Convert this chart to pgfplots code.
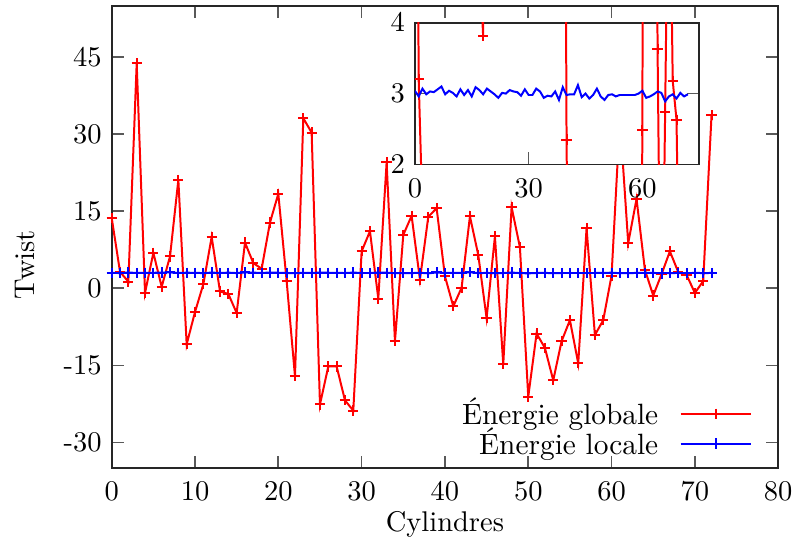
\documentclass[border=0pt]{standalone}
\usepackage{pgfplots}
\pgfplotsset{compat=1.18}
\usepackage{pgfplotstable}

\pgfplotstableread{
x y
0 13.7
1 3.2
2 1.3
3 43.8
4 -0.9
5 6.9
6 0.3
7 6.2
8 21.1
9 -10.9
10 -4.6
11 0.8
12 10.0
13 -0.6
14 -1.1
15 -4.8
16 8.9
17 4.9
18 3.82
19 12.8
20 18.4
21 1.4
22 -17.1
23 33.1
24 30.3
25 -22.6
26 -15.2
27 -15.2
28 -21.8
29 -23.8
30 7.2
31 11.1
32 -2.0
33 24.5
34 -10.3
35 10.4
36 14.1
37 1.7
38 13.9
39 15.6
40 2.35
41 -3.5
42 0.1
43 14.0
44 6.5
45 -5.8
46 10.1
47 -14.8
48 15.8
49 8.0
50 -21.1
51 -8.8
52 -11.6
53 -17.9
54 -10.3
55 -6.2
56 -14.6
57 11.7
58 -9.1
59 -6.2
60 2.48
61 33.0
62 8.8
63 17.4
64 3.63
65 -1.4
66 2.74
67 7.2
68 3.18
69 2.63
70 -0.9
71 1.4
72 33.7
}\globale

\pgfplotstableread{
x y
0 3.04
1 2.96
2 3.07
3 2.99
4 3.03
5 3.02
6 3.06
7 3.10
8 2.99
9 3.04
10 3.01
11 2.96
12 3.06
13 2.98
14 3.05
15 2.96
16 3.09
17 3.05
18 2.99
19 3.07
20 3.03
21 2.99
22 2.94
23 3.01
24 3.00
25 3.05
26 3.03
27 3.02
28 2.97
29 3.06
30 2.98
31 2.98
32 3.07
33 3.03
34 2.94
35 2.97
36 2.96
37 3.03
38 2.91
39 3.09
40 2.98
41 2.99
42 2.99
43 3.12
44 2.95
45 3.00
46 2.93
47 2.98
48 3.07
49 2.96
50 2.91
51 2.98
52 2.99
53 2.96
54 2.98
55 2.98
56 2.98
57 2.98
58 2.98
59 3.00
60 3.04
61 2.94
62 2.96
63 2.99
64 3.03
65 3.01
66 2.89
67 2.96
68 2.99
69 2.93
70 3.01
71 2.96
72 2.99
}\locale

\pgfplotsset{
  redstyle/.style={color=red, line width=0.7pt, mark=+, mark size=1.8pt, mark options={line width=0.7pt}},
}

\begin{document}
\begin{tikzpicture}
\begin{axis}[
  at={(0pt,0pt)}, anchor=south west,
  scale only axis, width=233.9pt, height=162.3pt,
  xmin=0, xmax=80, ymin=-35, ymax=55,
  xtick={0,10,...,80},
  ytick={-30,-15,0,15,30,45},
  yticklabels={-30,-15,0,15,30,45},
  tick align=inside, major tick length=4.3pt,
  tick style={black!65, line width=0.6pt},
  axis line style={black!85, line width=0.6pt},
  xlabel={Cylindres}, ylabel={Twist},
  xlabel style={at={(axis description cs:0.5,-0.1226)}, anchor=center},
  ylabel style={at={(axis description cs:-0.13,0.44)}, anchor=center, rotate=0},
  xticklabel style={yshift=-1.5pt},
  legend cell align=right,
  legend plot pos=right,
  legend style={draw=none, fill=none, at={(axis description cs:0.974,0.0)}, anchor=south east,
    row sep=-2.4pt, column sep=6.5pt, nodes={inner sep=1pt}, font=\fontsize{10.3}{12.4}\selectfont},
  legend image code/.code={\draw[#1, mark repeat=2, mark phase=2] plot coordinates {(0pt,0pt) (12.3pt,0pt) (24.6pt,0pt)};},
]
\addplot[redstyle] table[x=x,y=y] {\globale};
\addlegendentry{Énergie globale}
\addplot[color=blue, line width=0.7pt, mark=+, mark size=1.8pt, mark options={line width=0.7pt}] table[x=x,y=y] {\locale};
\addlegendentry{Énergie locale}
\end{axis}
\begin{axis}[
  at={(106.4pt,156.3pt)}, anchor=north west,
  scale only axis, width=99.8pt, height=49.7pt,
  xmin=0, xmax=75, ymin=2, ymax=4,
  xtick={0,30,60}, ytick={2,3,4},
  xtick pos=bottom,
  tick align=inside, major tick length=4.3pt,
  tick style={black!65, line width=0.6pt},
  axis line style={black!85, line width=0.6pt},
  axis background/.style={fill=white},
  clip marker paths=true,
  xticklabel style={yshift=-1.5pt},
]
\addplot[redstyle, restrict x to domain=0:2] table[x=x,y=y] {\globale};
\addplot[redstyle, restrict x to domain=17:19] table[x=x,y=y] {\globale};
\addplot[redstyle, restrict x to domain=39:41] table[x=x,y=y] {\globale};
\addplot[redstyle, restrict x to domain=59:61] table[x=x,y=y] {\globale};
\addplot[redstyle, restrict x to domain=63:70] table[x=x,y=y] {\globale};
\addplot[color=blue, line width=0.7pt] table[x=x,y=y] {\locale};
\end{axis}
\pgfresetboundingbox
\path[use as bounding box] (-39.2pt,-27.6pt) rectangle (239.8pt,164.3pt);
\end{tikzpicture}
\end{document}
